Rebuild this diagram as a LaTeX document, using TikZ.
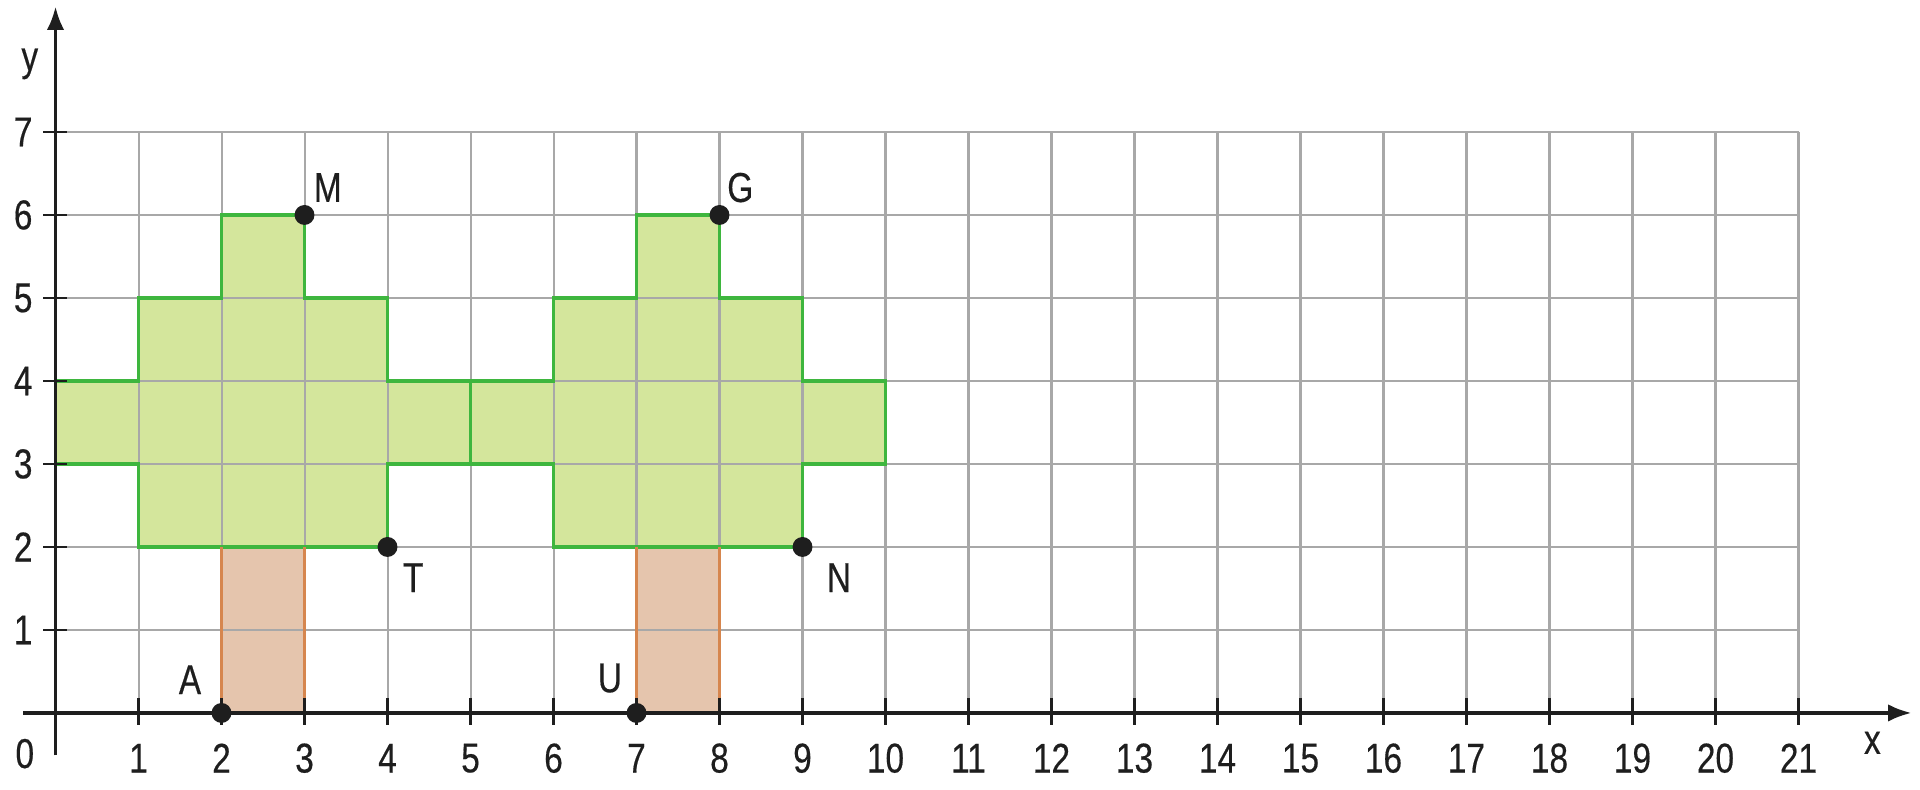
\documentclass[tikz,border=0pt]{standalone}
\usepackage{fontspec}
\setmainfont[FakeStretch=0.8,FakeBold=0.4]{Liberation Sans}
\usetikzlibrary{arrows.meta}
\definecolor{gridgray}{RGB}{168,168,168}
\definecolor{leaf}{RGB}{212,230,156}
\definecolor{leafline}{RGB}{62,182,62}
\definecolor{trunk}{RGB}{229,197,173}
\definecolor{trunkline}{RGB}{214,134,78}
\definecolor{ink}{RGB}{30,30,30}
\tikzset{
  gridline/.style={draw=gridgray, line width=0.7pt},
  axisline/.style={draw=ink, line width=1.1pt},
  tickmark/.style={draw=ink, line width=0.9pt},
  leafshape/.style={fill=leaf},
  leafedge/.style={draw=leafline, line width=1.2pt, line join=miter},
  trunkshape/.style={fill=trunk},
  trunkedge/.style={draw=trunkline, line width=1.1pt},
  dotpt/.style={circle, fill=ink, inner sep=0pt, minimum size=0.24cm},
  lbl/.style={font=\fontsize{14.3}{15}\selectfont, text=ink, inner sep=0pt},
}
\begin{document}
\begin{tikzpicture}
\useasboundingbox (-0.669,-0.928) rectangle (22.464,8.590);
% fills
\fill[leafshape] (0,3)--(0,4)--(1,4)--(1,5)--(2,5)--(2,6)--(3,6)--(3,5)--(4,5)--(4,4)--(5,4)--(5,3)--(4,3)--(4,2)--(1,2)--(1,3)--cycle;
\fill[leafshape] (5,3)--(5,4)--(6,4)--(6,5)--(7,5)--(7,6)--(8,6)--(8,5)--(9,5)--(9,4)--(10,4)--(10,3)--(9,3)--(9,2)--(6,2)--(6,3)--cycle;
\fill[trunkshape] (2,0) rectangle (3,2);
\fill[trunkshape] (7,0) rectangle (8,2);
% grid
\draw[gridline] (0,0) grid (21,7);
% outlines
\draw[leafedge] (0,3)--(0,4)--(1,4)--(1,5)--(2,5)--(2,6)--(3,6)--(3,5)--(4,5)--(4,4)--(5,4)--(5,3)--(4,3)--(4,2)--(1,2)--(1,3)--cycle;
\draw[leafedge] (5,3)--(5,4)--(6,4)--(6,5)--(7,5)--(7,6)--(8,6)--(8,5)--(9,5)--(9,4)--(10,4)--(10,3)--(9,3)--(9,2)--(6,2)--(6,3)--cycle;
\draw[trunkedge] (2,0)--(2,2) (3,0)--(3,2);
\draw[trunkedge] (7,0)--(7,2) (8,0)--(8,2);
% axes
\coordinate (xs) at (-0.39,0);
\coordinate (xe) at (22.36,0);
\coordinate (ys) at (0,-0.51);
\coordinate (ye) at (0,8.51);
\draw[axisline, -{Latex[length=8pt,width=6pt]}] (xs) -- (xe);
\draw[axisline, -{Latex[length=8pt,width=6pt]}] (ys) -- (ye);
\foreach \i in {1,...,21}{
  \draw[tickmark] (\i,0.18) -- (\i,-0.15);
  \node[lbl] (xl\i) at (\i,-0.545) {\i};
}
\foreach \j in {1,...,7}{
  \draw[tickmark] (-0.15,\j) -- (0.14,\j);
  \node[lbl] (yl\j) at (-0.39,\j) {\j};
}
\node[lbl] (zero) at (-0.37,-0.49) {0};
\node[lbl] (xlab) at (21.89,-0.36) {x};
\node[lbl] (ylab) at (-0.31,7.82) {y};
% points
\node[dotpt] (A) at (2,0) {};
\node[dotpt] (M) at (3,6) {};
\node[dotpt] (T) at (4,2) {};
\node[dotpt] (U) at (7,0) {};
\node[dotpt] (G) at (8,6) {};
\node[dotpt] (N) at (9,2) {};
\node[lbl] (lA) at (1.62,0.40) {A};
\node[lbl] (lM) at (3.28,6.33) {M};
\node[lbl] (lT) at (4.31,1.63) {T};
\node[lbl] (lU) at (6.68,0.42) {U};
\node[lbl] (lG) at (8.25,6.33) {G};
\node[lbl] (lN) at (9.44,1.63) {N};
\end{tikzpicture}
\end{document}
